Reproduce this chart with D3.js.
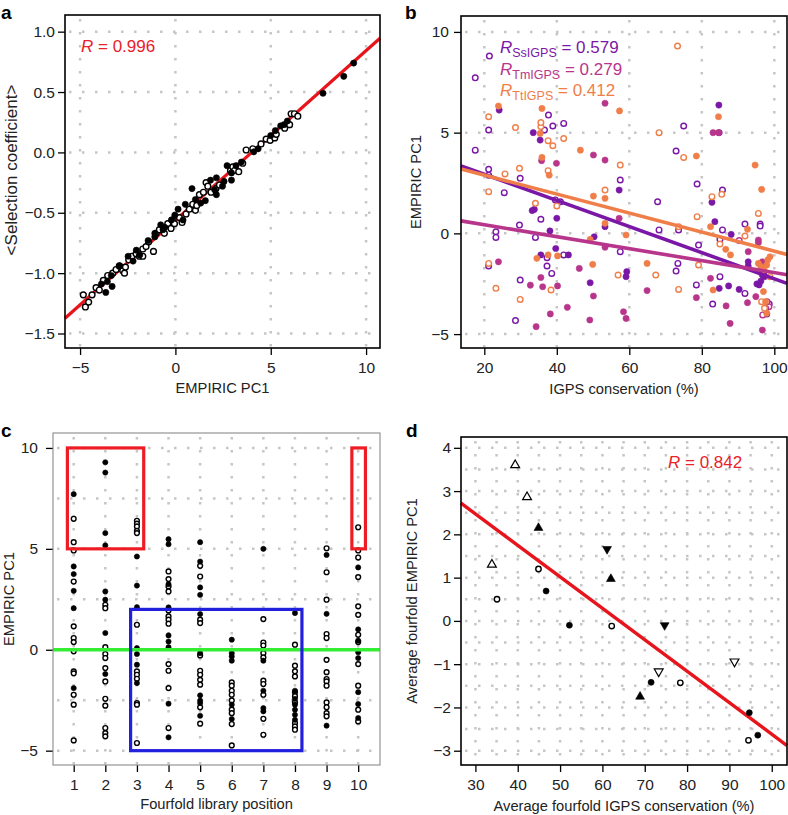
<!DOCTYPE html>
<html>
<head>
<meta charset="utf-8">
<script src="https://cdn.jsdelivr.net/npm/d3@7"></script>
<style>
body { margin: 0; background: #fff; }
svg { display: block; font-family: "Liberation Sans", Arial, Helvetica, sans-serif; }
</style>
</head>
<body>
<svg width="788" height="815"></svg>
<script>
// ---- panel a: selection coefficient vs EMPIRIC PC1 ----
const aR = "0.996";
const aFit = [[-5.79, -1.374], [10.73, 0.945]];
const aFilled = [[9.35,0.74],[8.83,0.63],[7.74,0.49],[5.87,0.26],[5.52,0.22],[5.24,0.18],[5.0,0.14],[5.70,0.23],
  [4.34,0.03],[4.11,0.005],[3.46,-0.08],[3.18,-0.11],[2.94,-0.17],[2.94,-0.23],[2.71,-0.11],[2.55,-0.24],
  [2.47,-0.28],[2.15,-0.21],[2.15,-0.35],[2.06,-0.31],[1.84,-0.23],[1.57,-0.40],[1.33,-0.42],[1.05,-0.39],
  [0.87,-0.30],[0.52,-0.43],[0.40,-0.56],[0.14,-0.47],[-0.03,-0.52],[-0.21,-0.56],[-0.56,-0.62],[-0.65,-0.64],
  [-0.77,-0.60],[-1.08,-0.67],[-1.08,-0.70],[-1.43,-0.73],[-1.87,-0.85],[-2.05,-0.81],[-2.22,-0.90],[-2.48,-0.86],
  [-2.92,-0.94],[-3.32,-1.11],[-3.36,-1.02],[-3.57,-1.07],[-3.65,-1.16],[-3.88,-1.09]];
const aOpen = [[-4.83,-1.18],[-4.72,-1.28],[-4.55,-1.24],[-4.37,-1.18],[-4.16,-1.12],[-3.99,-1.14],[-3.78,-1.06],
  [-3.55,-1.02],[-3.29,-1.00],[-3.11,-0.97],[-2.94,-0.94],[-2.76,-0.98],[-2.67,-1.00],[-2.62,-0.95],[-2.45,-0.89],
  [-2.27,-0.86],[-2.06,-0.84],[-1.89,-0.86],[-1.71,-0.80],[-1.71,-0.86],[-1.54,-0.78],[-1.40,-0.74],[-1.15,-0.82],
  [-1.01,-0.67],[-0.84,-0.64],[-0.58,-0.67],[-0.40,-0.59],[-0.23,-0.63],[-0.17,-0.56],[-0.05,-0.59],[0.21,-0.54],
  [0.35,-0.58],[0.56,-0.51],[0.73,-0.47],[0.91,-0.43],[1.05,-0.48],[1.12,-0.44],[1.26,-0.35],[1.47,-0.33],
  [1.61,-0.25],[1.70,-0.28],[1.87,-0.33],[2.13,-0.30],[2.31,-0.27],[2.89,-0.15],[3.01,-0.12],[3.10,-0.15],
  [3.32,-0.16],[3.53,-0.09],[3.71,0.02],[4.06,0.03],[4.49,0.07],[4.76,0.11],[4.97,0.10],[5.21,0.12],
  [5.29,0.15],[5.73,0.20],[5.99,0.23],[6.07,0.32],[6.24,0.32],[6.42,0.30]];

// ---- panel b: EMPIRIC PC1 vs IGPS conservation, three species ----
const bNames = ["SsIGPS", "TmIGPS", "TtIGPS"];
const bR = ["0.579", "0.279", "0.412"];
const bColors = ["#7b17a6", "#b8358c", "#f07e49"];
const bFits = [[[13.57, 3.35], [103.5, -2.48]], [[13.57, 0.62], [103.5, -2.05]], [[13.57, 3.2], [103.5, -1.05]]];
const bSsFilled = [[24.1,6.12],[33.5,5.0],[35.4,4.63],[33.2,1.13],[33.8,1.19],[38.1,0.12],[40.0,0.75],[39.7,-0.75],
  [35.6,-1.07],[43.2,-1.07],[49.2,-2.45],[50.3,-0.17],[53.3,0.33],[57.2,2.15],[59.1,-2.15],[59.3,-1.9],
  [82.8,1.54],[83.6,0.58],[84.8,5.0],[84.7,6.37],[84.8,-2.73],[87.4,-2.61],[88.1,-0.05],[90.3,-2.78],
  [92.8,-1.62],[92.8,-1.41],[95.2,-2.51],[95.8,-2.56],[96.3,-2.37],[96.5,-1.65],[96.7,-2.07],[97.1,-2.02],[97.3,-2.15]];
const bSsOpen = [[17.5,4.13],[17.5,7.72],[21.4,8.8],[21.2,5.13],[21.2,3.18],[21.2,2.89],[21.2,-1.62],[23.2,0.08],
  [23.2,-0.2],[25.5,2.02],[28.6,-4.33],[29.7,0.41],[29.9,-2.32],[29.9,2.73],[34.1,-0.2],[35.6,0.7],[36.6,5.13],
  [37.7,5.87],[38.9,5.33],[37.3,-1.21],[37.3,-1.62],[38.6,-1.99],[39.6,1.66],[41.0,1.57],[41.9,5.46],[41.9,-1.07],
  [57.5,-0.91],[57.5,2.65],[67.8,1.57],[68.2,0.17],[72.9,4.09],[72.9,-1.87],[73.4,-1.49],[73.6,0.17],[75.0,5.33],
  [78.7,2.45],[79.1,-0.58],[78.5,-2.56],[83.0,-3.51],[85.0,-2.15],[85.0,-0.3],[85.7,2.15],[85.7,0.17],[91.9,0.46],
  [91.9,-2.98],[96.1,0.46],[96.1,0.36],[98.6,-3.51],[97.9,-4.0]];
const bTmFilled = [[53.3,6.46],[39.9,3.48],[35.8,3.61],[53.3,3.64],[50.1,3.89],[23.9,-1.41],[32.7,-2.57],[35.6,-2.19],
  [36.1,-2.65],[40.2,-2.61],[38.2,-4.0],[34.3,-4.63],[42.9,-3.67],[46.2,-1.74],[50.1,-3.11],[49.1,-4.30],[53.3,-0.69],
  [57.2,0.75],[58.4,-3.89],[59.1,-4.22],[64.9,-2.84],[78.5,-3.19],[82.4,-2.23],[83.1,5.0],[84.6,5.0],[86.7,-3.6],
  [87.8,-4.47],[92.8,-0.91],[92.6,-3.44],[95.6,-0.33],[94.9,-3.14],[96.7,-1.41],[97.7,-3.72],[96.7,-4.80],[95.6,-0.46]];
const bTmOpen = [[90.3,-0.36],[96.8,-4.05],[98.5,-3.64],[98.0,-3.39]];
const bTtFilled = [[23.9,6.32],[35.9,6.2],[35.4,4.96],[35.9,3.77],[37.9,2.89],[46.5,4.13],[57.3,6.08],[53.3,1.74],
  [50.1,1.85],[53.3,0.5],[59.1,-0.08],[34.5,-1.24],[37.6,-1.07],[40.2,-1.12],[49.9,-1.54],[49.2,-0.3],[64.9,-1.49],
  [78.5,3.84],[82.4,0.33],[84.6,5.79],[83.1,-2.81],[86.6,-0.79],[87.9,-1.07],[92.6,0.2],[94.7,3.39],[96.5,2.18],
  [95.6,-1.49],[96.3,-1.65],[97.2,-1.82],[97.9,-1.57],[98.2,-1.32],[98.8,-1.16],[97.0,-2.89],[97.6,-3.39],[97.9,-3.97]];
const bTtOpen = [[21.2,5.79],[21.2,2.07],[21.2,-1.49],[23.2,-2.73],[25.7,2.95],[28.6,5.25],[29.7,3.23],[29.9,-3.28],
  [34.1,1.49],[35.6,5.3],[35.6,5.5],[37.6,3.11],[37.6,4.6],[38.9,4.35],[38.4,-2.81],[40.0,1.36],[41.9,4.71],
  [53.3,2.15],[57.5,3.39],[56.9,-2.07],[68.2,5.0],[67.3,-2.07],[73.3,9.3],[75.0,3.77],[73.6,0.33],[73.6,-2.78],
  [78.7,0.83],[79.1,-1.57],[82.8,1.82],[85.0,-0.53],[85.5,1.94],[91.9,-0.13],[95.6,0.99],[96.5,-3.39],[98.8,-2.15],[97.3,-3.72]];

// ---- panel c: EMPIRIC PC1 by fourfold library position ----
const cPositions = [1, 2, 3, 4, 5, 6, 7, 8, 9, 10];
const cFilled = [
  [7.71, 4.13, 3.75, 2.92, 2.06, -1.90],
  [9.29, 8.78, 5.78, 5.17, 2.89, 2.48, 0.83, -1.20],
  [4.62, 3.18, 2.11, 0.08, -0.21, -0.74, -1.65],
  [5.48, 5.23, 3.25, 2.10, 0.71, 0.41, 0.13, -2.67, -4.34],
  [5.33, 4.37, 3.09, 2.72, 1.77, -0.17, -2.26, -2.52, -2.64, -3.27],
  [0.50, -0.17, -0.33, -0.54, -2.72, -3.43],
  [5.00, -0.54, -2.03, -2.89, -3.05],
  [1.82, -2.03, -2.43, -2.72, -2.97, -3.22, -3.47],
  [4.70, 1.78, -3.76],
  [4.08, 1.01, 0.45, -0.12, -0.41, -2.10, -2.69, -3.38]];
const cOpen = [
  [6.49, 5.33, 4.92, 3.38, 1.16, 0.58, 0.38, -0.08, -1.07, -1.17, -2.23, -2.72, -4.49],
  [2.23, 2.06, 0.13, -0.21, -0.41, -0.91, -1.57, -2.43, -2.77, -3.88, -4.13, -4.29],
  [6.39, 6.25, 6.11, 5.89, 5.78, 1.24, -1.07, -1.24, -1.44, -2.64, -2.72, -4.62],
  [3.88, 3.50, 3.14, 2.89, 1.95, 1.65, 1.49, 1.29, -0.71, -1.04, -1.90, -3.88],
  [4.16, 3.63, 1.49, 1.32, -0.28, -1.04, -1.24, -1.49, -1.73, -2.85, -3.66],
  [-1.62, -1.78, -2.03, -2.23, -2.51, -2.97, -3.14, -3.68, -4.74],
  [1.52, 0.36, 0.21, -0.17, -0.38, -1.53, -1.70, -2.23, -3.42, -4.21],
  [0.25, -0.79, -1.07, -1.32, -2.10, -2.30, -2.61, -3.63, -3.80, -3.96],
  [5.03, 3.84, 2.48, 0.78, 0.58, -0.50, -1.11, -1.45, -1.57, -1.78, -2.61, -2.85, -3.14, -3.30],
  [6.07, 4.92, 4.57, 3.60, 2.15, 1.73, 0.74, 0.38, -0.71, -1.78, -2.97, -3.55]];
// boxes: [x0, x1, y0, y1, colour]
const cBoxes = [[0.8, 3.215, 5, 10, "#ee1c24"], [9.8, 10.23, 5, 10, "#ee1c24"], [2.8, 8.22, -5, 2, "#2020dd"]];

// ---- panel d: fourfold averages ----
const dR = "0.842";
const dFit = [[26.6, 2.72], [103.6, -2.88]];
const dOpenCircle = [[35.1,0.50],[44.9,1.20],[62.2,-0.12],[78.4,-1.43],[94.5,-2.76]];
const dFilledCircle = [[46.7,0.69],[52.2,-0.10],[71.5,-1.42],[94.7,-2.12],[96.7,-2.64]];
const dOpenUp = [[39.4,3.60],[42.2,2.86],[33.9,1.30]];
const dFilledUp = [[44.9,2.15],[62.0,0.97],[68.9,-1.75]];
const dFilledDown = [[61.1,1.66],[74.7,-0.10]];
const dOpenDown = [[73.3,-1.17],[91.2,-0.94]];

const svg = d3.select("svg");
const fmtInt = d3.format("d");

function makePanel(box, xDom, yDom) {
    const sx = d3.scaleLinear().domain(xDom).range([box.left, box.right]);
    const sy = d3.scaleLinear().domain(yDom).range([box.bottom, box.top]);
    return {g: svg.append("g"), sx, sy, box};
}

// dotted gray grid
function drawGrid(p, xs, ys) {
    const gg = p.g.append("g")
        .attr("stroke", "#c6c6c6").attr("stroke-width", 2.5).attr("stroke-dasharray", "2.5 10.5");
    gg.selectAll(null).data(xs).enter().append("line")
        .attr("x1", d => p.sx(d)).attr("x2", d => p.sx(d))
        .attr("y1", p.box.top + 4).attr("y2", p.box.bottom);
    gg.selectAll(null).data(ys).enter().append("line")
        .attr("x1", p.box.left + 4).attr("x2", p.box.right)
        .attr("y1", d => p.sy(d)).attr("y2", d => p.sy(d));
}

function drawAxes(p, xTicks, yTicks, yFmt, yPad, frameColor) {
    const ax = p.g.append("g").attr("transform", `translate(0,${p.box.bottom})`)
        .call(d3.axisBottom(p.sx).tickValues(xTicks).tickSize(7).tickPadding(7).tickFormat(fmtInt));
    const ay = p.g.append("g").attr("transform", `translate(${p.box.left},0)`)
        .call(d3.axisLeft(p.sy).tickValues(yTicks).tickSize(7).tickPadding(yPad).tickFormat(yFmt));
    [ax, ay].forEach(a => {
        a.select(".domain").remove();
        a.attr("font-size", 15.5).attr("font-family", null);
        a.selectAll("line").attr("stroke", "#000").attr("stroke-width", 1.3);
        a.selectAll("text").attr("fill", "#222");
    });
    p.g.append("rect")
        .attr("x", p.box.left).attr("y", p.box.top)
        .attr("width", p.box.right - p.box.left).attr("height", p.box.bottom - p.box.top)
        .attr("fill", "none").attr("stroke", frameColor).attr("stroke-width", frameColor === "#000" ? 1.6 : 1.1);
}

function titles(p, xt, yt, xBase, yBase, yFont, yCenter) {
    p.g.append("text").attr("x", (p.box.left + p.box.right) / 2).attr("y", xBase)
        .attr("text-anchor", "middle").attr("font-size", 14.7).attr("fill", "#222").text(xt);
    const cy = yCenter || (p.box.top + p.box.bottom) / 2;
    p.g.append("text").attr("transform", `translate(${yBase},${cy}) rotate(-90)`)
        .attr("text-anchor", "middle").attr("font-size", yFont || 14.7).attr("fill", "#222").text(yt);
}

function fitLine(p, pts, color, w) {
    p.g.append("path")
        .attr("d", d3.line().x(d => p.sx(d[0])).y(d => p.sy(d[1]))(pts))
        .attr("stroke", color).attr("stroke-width", w).attr("fill", "none");
}

function dots(p, pts, color, filled, r) {
    p.g.append("g").selectAll("circle").data(pts).enter().append("circle")
        .attr("cx", d => p.sx(d[0])).attr("cy", d => p.sy(d[1]))
        .attr("r", r)
        .attr("fill", filled ? color : "#fff")
        .attr("stroke", color).attr("stroke-width", filled ? 0.6 : 1.4);
}

function letter(x, y, t) {
    svg.append("text").attr("x", x).attr("y", y).attr("font-size", 19).attr("font-weight", "bold").text(t);
}

// ===== a =====
const pa = makePanel({left: 65, right: 380, top: 15, bottom: 348}, [-5.79, 10.73], [-1.62, 1.138]);
drawGrid(pa, [-5, 0, 5, 10], [-1.5, -1, -0.5, 0, 0.5, 1]);
fitLine(pa, aFit, "#e8141c", 3.2);
dots(pa, aOpen, "#000", false, 2.9);
dots(pa, aFilled, "#000", true, 3.1);
drawAxes(pa, [-5, 0, 5, 10], [-1.5, -1, -0.5, 0, 0.5, 1], d3.format(".1f"), 3, "#000");
titles(pa, "EMPIRIC PC1", "<Selection coefficient>", 393, 17, 17, 170);
const ta = pa.g.append("text").attr("x", 81).attr("y", 52).attr("font-size", 17).attr("fill", "#e8212a");
ta.append("tspan").attr("font-style", "italic").text("R");
ta.append("tspan").text(" =  " + aR);
letter(1, 19, "a");

// ===== b =====
const pb = makePanel({left: 461, right: 787, top: 16, bottom: 348}, [13.57, 103.5], [-5.69, 10.79]);
drawGrid(pb, [20, 40, 60, 80, 100], [-5, 0, 5, 10]);
const bSets = [[bSsFilled, bSsOpen], [bTmFilled, bTmOpen], [bTtFilled, bTtOpen]];
bSets.forEach((s, i) => {
    dots(pb, s[1], bColors[i], false, 2.8);
    dots(pb, s[0], bColors[i], true, 3.1);
});
bFits.forEach((f, i) => fitLine(pb, f, bColors[i], 3.6));
drawAxes(pb, [20, 40, 60, 80, 100], [-5, 0, 5, 10], fmtInt, 5, "#000");
titles(pb, "IGPS conservation (%)", "EMPIRIC PC1", 394, 421);
bNames.forEach((n, i) => {
    const t = pb.g.append("text").attr("x", 500).attr("y", 53 + i * 21.7)
        .attr("font-size", 17).attr("fill", bColors[i]);
    t.append("tspan").attr("font-style", "italic").text("R");
    t.append("tspan").attr("font-size", 12.5).attr("dy", 4).text(n);
    t.append("tspan").attr("dy", -4).text(" = " + bR[i]);
});
letter(405, 19, "b");

// ===== c =====
const pc = makePanel({left: 53, right: 380, top: 433, bottom: 765}, [0.345, 10.69], [-5.71, 10.74]);
drawGrid(pc, cPositions, [-5, -2.5, 0, 2.5, 5, 7.5, 10]);
cPositions.forEach((pos, i) => {
    dots(pc, cOpen[i].map(v => [pos, v]), "#000", false, 2.4);
    dots(pc, cFilled[i].map(v => [pos, v]), "#000", true, 2.6);
});
fitLine(pc, [[0.345, 0], [10.69, 0]], "#33ee33", 3.4);
pc.g.append("g").selectAll("rect").data(cBoxes).enter().append("rect")
    .attr("x", d => pc.sx(d[0])).attr("y", d => pc.sy(d[3]))
    .attr("width", d => pc.sx(d[1]) - pc.sx(d[0])).attr("height", d => pc.sy(d[2]) - pc.sy(d[3]))
    .attr("fill", "none").attr("stroke", d => d[4]).attr("stroke-width", 3.2);
drawAxes(pc, cPositions, [-5, 0, 5, 10], fmtInt, 8, "#8a8a8a");
titles(pc, "Fourfold library position", "EMPIRIC PC1", 809, 14);
letter(1, 437, "c");

// ===== d =====
const pd = makePanel({left: 461, right: 787, top: 437, bottom: 765}, [26.6, 103.6], [-3.33, 4.25]);
drawGrid(pd, d3.range(30, 101, 5), d3.range(-3, 4.01, 0.5));
fitLine(pd, dFit, "#e8141c", 3.4);
dots(pd, dOpenCircle, "#000", false, 2.7);
dots(pd, dFilledCircle, "#000", true, 3);
const tri = d3.symbol().type(d3.symbolTriangle).size(34)();
[[dOpenUp, false, 0], [dFilledUp, true, 0], [dFilledDown, true, 180], [dOpenDown, false, 180]].forEach(s => {
    pd.g.append("g").selectAll("path").data(s[0]).enter().append("path")
        .attr("d", tri)
        .attr("transform", d => `translate(${pd.sx(d[0])},${pd.sy(d[1])}) rotate(${s[2]})`)
        .attr("fill", s[1] ? "#000" : "#fff").attr("stroke", "#000").attr("stroke-width", s[1] ? 0.6 : 1.2);
});
drawAxes(pd, d3.range(30, 101, 10), d3.range(-3, 5, 1), fmtInt, 3, "#000");
titles(pd, "Average fourfold IGPS conservation (%)", "Average fourfold EMPIRIC PC1", 811, 417);
const td = pd.g.append("text").attr("x", 668).attr("y", 468).attr("font-size", 17).attr("fill", "#e8212a");
td.append("tspan").attr("font-style", "italic").text("R");
td.append("tspan").text(" = " + dR);
letter(406, 437, "d");
</script>
</body>
</html>
